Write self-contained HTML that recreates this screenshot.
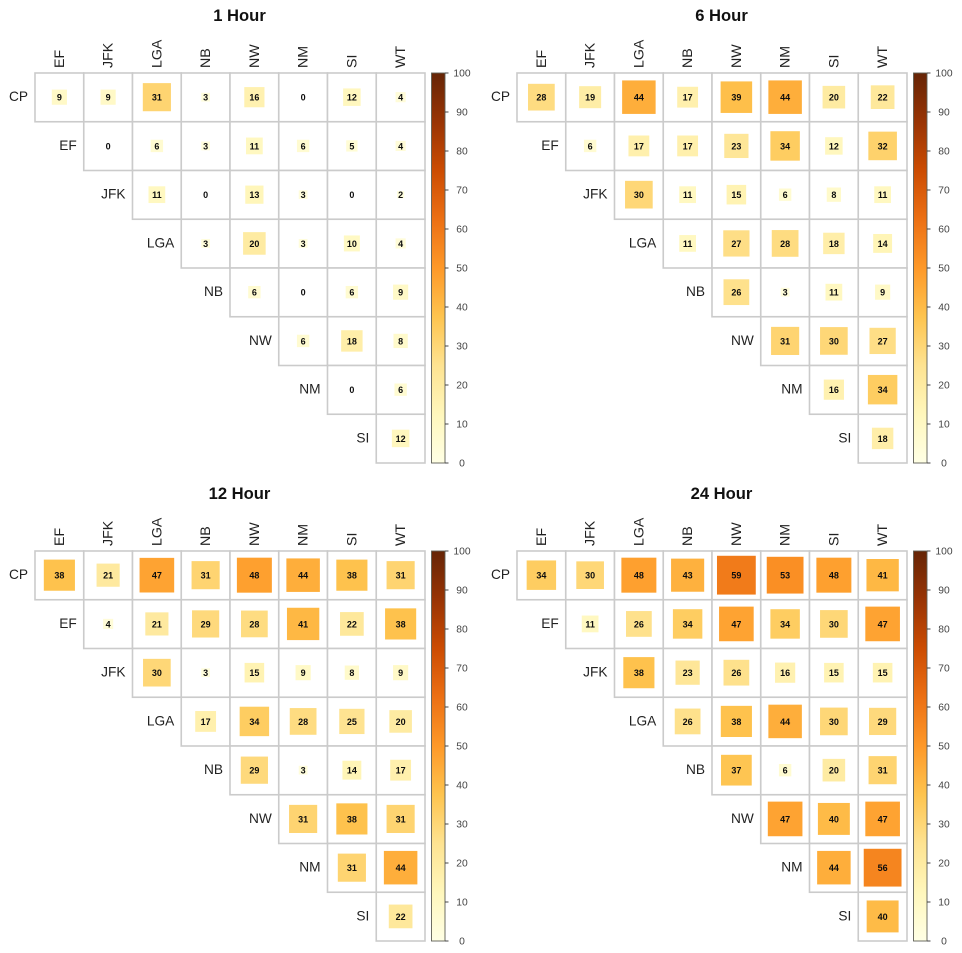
<!DOCTYPE html>
<html lang="en">
<head>
<meta charset="utf-8">
<title>Correlation matrices</title>
<style>
html,body{margin:0;padding:0;background:#fff;}
svg{display:block;font-family:"Liberation Sans",Arial,sans-serif;filter:blur(0.3px);}
</style>
</head>
<body>
<svg id="chart" width="962" height="953" viewBox="0 0 962 953" xmlns="http://www.w3.org/2000/svg">
<defs>
<linearGradient id="ylorbr" x1="0" y1="1" x2="0" y2="0">
<stop offset="0" stop-color="#FFFFE5"/><stop offset="0.125" stop-color="#FFF7BC"/><stop offset="0.25" stop-color="#FEE391"/><stop offset="0.375" stop-color="#FEC44F"/><stop offset="0.5" stop-color="#FE9929"/><stop offset="0.625" stop-color="#EC7014"/><stop offset="0.75" stop-color="#CC4C02"/><stop offset="0.875" stop-color="#993404"/><stop offset="1" stop-color="#662506"/>
</linearGradient>
</defs>
</svg>
<script>
const columnLabels = ['EF','JFK','LGA','NB','NW','NM','SI','WT'];
const rowLabels = ['CP','EF','JFK','LGA','NB','NW','NM','SI'];
const panelTitles = ['1 Hour','6 Hour','12 Hour','24 Hour'];
const legendTicks = [0,10,20,30,40,50,60,70,80,90,100];
const colorStops = ['#FFFFE5','#FFF7BC','#FEE391','#FEC44F','#FE9929','#EC7014','#CC4C02','#993404','#662506'];

const hour1Values = [
  [9,9,31,3,16,0,12,4],
  [0,6,3,11,6,5,4],
  [11,0,13,3,0,2],
  [3,20,3,10,4],
  [6,0,6,9],
  [6,18,8],
  [0,6],
  [12]
];
const hour6Values = [
  [28,19,44,17,39,44,20,22],
  [6,17,17,23,34,12,32],
  [30,11,15,6,8,11],
  [11,27,28,18,14],
  [26,3,11,9],
  [31,30,27],
  [16,34],
  [18]
];
const hour12Values = [
  [38,21,47,31,48,44,38,31],
  [4,21,29,28,41,22,38],
  [30,3,15,9,8,9],
  [17,34,28,25,20],
  [29,3,14,17],
  [31,38,31],
  [31,44],
  [22]
];
const hour24Values = [
  [34,30,48,43,59,53,48,41],
  [11,26,34,47,34,30,47],
  [38,23,26,16,15,15],
  [26,38,44,30,29],
  [37,6,20,31],
  [47,40,47],
  [44,56],
  [40]
];
const panelValues = [hour1Values,hour6Values,hour12Values,hour24Values];

const NS = 'http://www.w3.org/2000/svg';
const svg = document.getElementById('chart');
const CELL = 48.75, GRID_LEFT = 35, GRID_TOP = 73, PANEL_DX = 482, PANEL_DY = 478;
const GRID_SIZE = CELL * columnLabels.length;

function xScale(col){ return GRID_LEFT + col * CELL; }
function yScale(row){ return GRID_TOP + row * CELL; }
function sizeScale(v){ return 50.5 * Math.sqrt(v / 100); }
function legendScale(v){ return GRID_TOP + GRID_SIZE * (1 - v / 100); }
function colorScale(v){
  const t = Math.max(0, Math.min(1, v / 100)) * (colorStops.length - 1);
  const i = Math.min(Math.floor(t), colorStops.length - 2);
  const f = t - i;
  const a = parseInt(colorStops[i].slice(1), 16), b = parseInt(colorStops[i + 1].slice(1), 16);
  const mix = s => Math.round(((a >> s) & 255) * (1 - f) + ((b >> s) & 255) * f);
  return 'rgb(' + mix(16) + ',' + mix(8) + ',' + mix(0) + ')';
}
function make(tag, parent, attrs, text){
  const el = document.createElementNS(NS, tag);
  for (const k in attrs) el.setAttribute(k, attrs[k]);
  if (text !== undefined) el.textContent = text;
  parent.appendChild(el);
  return el;
}

panelTitles.forEach(function(title, p){
  const g = make('g', svg, {transform:'translate(' + (p % 2) * PANEL_DX + ',' + Math.floor(p / 2) * PANEL_DY + ')'});
  
  

  const titleEl = make('text', g, {x:239.5, y:21, 'text-anchor':'middle', 'font-size':16.6, 'font-weight':'bold', fill:'#111'}, title);
  
  

  columnLabels.forEach(function(label, c){
    const cx = xScale(c) + CELL / 2;
    const t = make('text', g, {x:cx + 4.4, y:68, transform:'rotate(-90 ' + (cx + 4.4) + ' 68)', 'font-size':14.2, fill:'#222'}, label);
    
    
  });

  rowLabels.forEach(function(label, r){
    const t = make('text', g, {x:xScale(r) - 7, y:yScale(r) + 28, 'text-anchor':'end', 'font-size':13.7, fill:'#222'}, label);
    
    
  });

  panelValues[p].forEach(function(rowVals, r){
    rowVals.forEach(function(v, i){
      const c = r + i;
      const x = xScale(c), y = yScale(r);
      const cell = make('rect', g, {x:x, y:y, width:CELL, height:CELL, fill:'#fff', stroke:'#cbcbcb', 'stroke-width':1.6});
      
      
    });
  });

  panelValues[p].forEach(function(rowVals, r){
    rowVals.forEach(function(v, i){
      const c = r + i;
      const cx = xScale(c) + CELL / 2, cy = yScale(r) + CELL / 2 - 0.2;
      const s = sizeScale(v);
      if (v > 0) {
        const sq = make('rect', g, {x:cx - s / 2, y:cy - s / 2, width:s, height:s, fill:colorScale(v)});
        
        
      }
      const t = make('text', g, {x:cx, y:cy + 3.4, 'text-anchor':'middle', 'font-size':9, 'font-weight':'bold', fill:'#0d0d0d'}, v);
      
      
    });
  });

  const bar = make('rect', g, {x:431.5, y:GRID_TOP, width:13.5, height:GRID_SIZE, fill:'url(#ylorbr)', stroke:'#5f5f55', 'stroke-width':0.9});
  
  

  legendTicks.forEach(function(v){
    const y = legendScale(v);
    const tick = make('line', g, {x1:445, x2:448.5, y1:y, y2:y, stroke:'#333', 'stroke-width':0.9});
    
    
    const t = make('text', g, {x:462, y:y + 3.7, 'text-anchor':'middle', 'font-size':10.3, fill:'#444'}, v);
    
    
  });
});
</script>
</body>
</html>
